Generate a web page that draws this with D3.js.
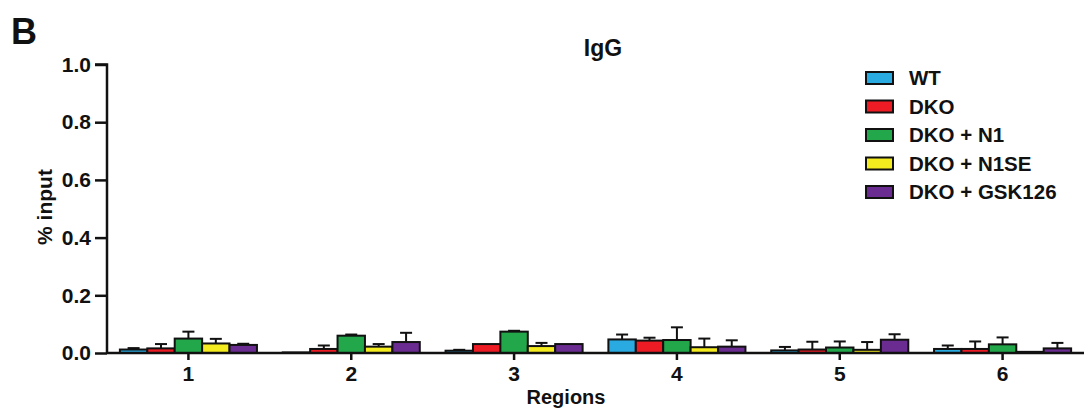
<!DOCTYPE html>
<html>
<head>
<meta charset="utf-8">
<script src="https://cdn.jsdelivr.net/npm/d3@7"></script>
<style>
  body { margin: 0; background: #fff; }
  text { font-family: "Liberation Sans", Arial, sans-serif; font-weight: bold; fill: #111; }
</style>
</head>
<body>
<script>
// data
regions = ["1", "2", "3", "4", "5", "6"]
groups = ["WT", "DKO", "DKO + N1", "DKO + N1SE", "DKO + GSK126"]
colors = ["#29abe2", "#ed1c24", "#22a84b", "#f5ec1f", "#6a2c91"]

// mean per group, one array per region
means = [
        [0.012, 0.016, 0.050, 0.033, 0.028],
        [0.002, 0.014, 0.060, 0.022, 0.038],
        [0.008, 0.031, 0.074, 0.024, 0.031],
        [0.047, 0.043, 0.045, 0.020, 0.022],
        [0.009, 0.012, 0.019, 0.011, 0.046],
        [0.014, 0.014, 0.030, 0.004, 0.016]
]
// top of error bar (mean + sem)
errTops = [
        [0.017, 0.031, 0.074, 0.049, 0.032],
        [0.003, 0.026, 0.064, 0.031, 0.070],
        [0.011, 0.032, 0.077, 0.035, 0.032],
        [0.064, 0.053, 0.089, 0.050, 0.044],
        [0.021, 0.039, 0.040, 0.038, 0.065],
        [0.026, 0.040, 0.054, 0.004, 0.035]
]
yTicks = [0, 0.2, 0.4, 0.6, 0.8, 1.0]

W = 1084
H = 410

svg = d3.select("body").append("svg")
        .attr("width", W)
        .attr("height", H)

x = d3.scaleBand().domain(regions).range([107, 1084]).padding(0)
inner = d3.scaleBand().domain(groups).range([0, x.bandwidth()]).paddingOuter(0.47).paddingInner(0)
y = d3.scaleLinear().domain([0, 1]).range([353, 64.5])

// bars
rows = []
regions.forEach(function(r, i) {
        groups.forEach(function(g, j) {
                rows.push({ region: r, group: g, gi: j, v: means[i][j], e: errTops[i][j] })
        })
})

bars = svg.append("g").attr("class", "bars")

// error bars first so the bar outline sits on top of the stem
errs = bars.selectAll("g.err").data(rows.filter(function(d) { return d.e > d.v + 0.001 }))
        .enter().append("g").attr("class", "err")
errs.append("line")
        .attr("x1", function(d) { return x(d.region) + inner(d.group) + inner.bandwidth() / 2 })
        .attr("x2", function(d) { return x(d.region) + inner(d.group) + inner.bandwidth() / 2 })
        .attr("y1", function(d) { return y(d.v) })
        .attr("y2", function(d) { return y(d.e) })
        .attr("stroke", "#111").attr("stroke-width", 2)
errs.append("line")
        .attr("x1", function(d) { return x(d.region) + inner(d.group) + inner.bandwidth() / 2 - 6 })
        .attr("x2", function(d) { return x(d.region) + inner(d.group) + inner.bandwidth() / 2 + 6 })
        .attr("y1", function(d) { return y(d.e) })
        .attr("y2", function(d) { return y(d.e) })
        .attr("stroke", "#111").attr("stroke-width", 2)

bars.selectAll("rect").data(rows)
        .enter().append("rect")
        .attr("x", function(d) { return x(d.region) + inner(d.group) })
        .attr("width", inner.bandwidth())
        .attr("y", function(d) { return y(d.v) })
        .attr("height", function(d) { return y(0) - y(d.v) })
        .attr("fill", function(d) { return colors[d.gi] })
        .attr("stroke", "#111")
        .attr("stroke-width", 2)

// axes
yAxis = svg.append("g")
        .attr("transform", "translate(107,0)")
        .call(d3.axisLeft(y).tickValues(yTicks).tickFormat(d3.format(".1f")).tickSize(12).tickPadding(4))
xAxis = svg.append("g")
        .attr("transform", "translate(0,353)")
        .call(d3.axisBottom(x).tickSize(7).tickPadding(6))

svg.selectAll(".domain, .tick line").attr("stroke", "#111").attr("stroke-width", 2.5)
yAxis.select(".domain").attr("d", "M-12,64.5H0V353")
xAxis.select(".domain").attr("d", "M107,0H1084")
svg.selectAll(".tick text")
        .style("font-size", "21px")
        .style("font-family", "'Liberation Sans', Arial, sans-serif")
        .style("font-weight", "bold")
        .attr("fill", "#111")

// labels
svg.append("text").attr("x", 11).attr("y", 44).attr("font-size", 36).text("B")
svg.append("text").attr("x", 603).attr("y", 56).attr("text-anchor", "middle").attr("font-size", 23).text("IgG")
svg.append("text").attr("x", 566).attr("y", 404).attr("text-anchor", "middle").attr("font-size", 20).text("Regions")
svg.append("text")
        .attr("transform", "translate(52,207) rotate(-90)")
        .attr("text-anchor", "middle").attr("font-size", 21).text("% input")

// legend
legend = svg.append("g").attr("transform", "translate(866,72)")
items = legend.selectAll("g").data(groups).enter().append("g")
        .attr("transform", function(d, i) { return "translate(0," + (i * 28.5) + ")" })
items.append("rect")
        .attr("width", 27).attr("height", 12)
        .attr("fill", function(d, i) { return colors[i] })
        .attr("stroke", "#111").attr("stroke-width", 2)
items.append("text")
        .attr("x", 43).attr("y", 13)
        .attr("font-size", 20.5)
        .text(function(d) { return d })
</script>
</body>
</html>
